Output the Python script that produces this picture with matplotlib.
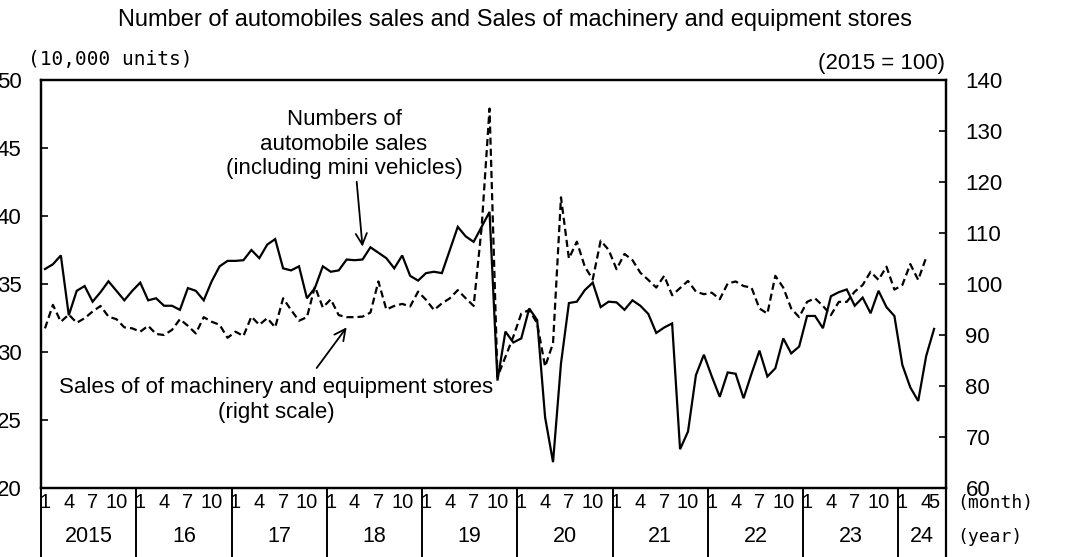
import numpy as np
import matplotlib
matplotlib.use("Agg")
import matplotlib.pyplot as plt
from matplotlib.transforms import blended_transform_factory

plt.rcParams["font.family"] = ["Liberation Sans", "DejaVu Sans"]

# year rows under the axis, month labels shown in each year
years = ["2015", "16", "17", "18", "19", "20", "21", "22", "23", "24"]
month_labels = [1, 4, 7, 10]
month_labels_last = [1, 4, 5]

# number of automobile sales, 10,000 units (left scale), Jan 2015 - May 2024
autos = [
    36.1, 36.45, 37.1, 32.7, 34.5, 34.85, 33.7, 34.4, 35.2, 34.5, 33.8, 34.5,
    35.1, 33.8, 33.95, 33.4, 33.4, 33.1, 34.7, 34.5, 33.8, 35.2, 36.3, 36.7,
    36.7, 36.75, 37.5, 36.9, 37.9, 38.3, 36.15, 36.0, 36.3, 33.95, 34.7, 36.3,
    35.9, 36.0, 36.8, 36.75, 36.8, 37.7, 37.3, 36.9, 36.15, 37.1, 35.6, 35.25,
    35.8, 35.9, 35.8, 37.5, 39.2, 38.5, 38.1, 39.2, 40.3, 27.9, 31.5, 30.7,
    31.0, 33.2, 32.35, 25.2, 21.9, 29.15, 33.6, 33.7, 34.55, 35.1, 33.3, 33.7,
    33.65, 33.1, 33.8, 33.4, 32.8, 31.4, 31.8, 32.1, 22.85, 24.15, 28.3, 29.8,
    28.2, 26.7, 28.5, 28.4, 26.6, 28.4, 30.1, 28.2, 28.8, 31.0, 29.9, 30.4,
    32.65, 32.65, 31.75, 34.1, 34.4, 34.6, 33.4, 34.0, 32.85, 34.5, 33.3, 32.65,
    29.05, 27.4, 26.4, 29.7, 31.7,
]

# sales of machinery and equipment stores, 2015 = 100 (right scale), Jan 2015 - Apr 2024
machinery = [
    91.3, 95.9, 92.6, 94.0, 92.4, 93.3, 94.6, 95.7, 93.6, 93.1, 91.5, 91.3,
    90.65, 91.8, 90.2, 90.0, 91.0, 93.1, 91.8, 90.3, 93.5, 92.6, 92.0, 89.45,
    90.65, 89.8, 93.6, 92.0, 93.3, 91.5, 97.2, 94.9, 92.8, 93.5, 99.5, 95.4,
    97.0, 93.9, 93.5, 93.5, 93.6, 94.4, 100.5, 95.0, 95.7, 96.1, 95.6, 98.5,
    96.9, 94.9, 96.2, 97.2, 98.8, 97.2, 95.7, 111.0, 134.4, 81.8, 85.7, 89.7,
    94.2, 94.9, 92.3, 83.8, 88.4, 117.0, 105.0, 108.3, 103.4, 100.9, 108.5, 106.7,
    102.9, 105.9, 104.7, 102.2, 100.8, 99.3, 101.6, 97.8, 99.2, 100.6, 98.5, 98.0,
    98.3, 97.0, 100.1, 100.5, 99.6, 99.3, 95.2, 94.2, 101.6, 99.3, 95.2, 93.5,
    96.5, 97.2, 95.7, 93.9, 96.5, 96.5, 98.5, 99.8, 102.4, 100.8, 103.4, 98.9,
    99.8, 103.9, 100.8, 105.2,
]

x_autos = np.arange(len(autos)) + 0.5
x_mach = np.arange(len(machinery)) + 0.5
x_end = 114

W, H = 1079, 557
fig = plt.figure(figsize=(W / 100, H / 100), dpi=100)
ax = fig.add_axes([41 / W, 1 - 488 / H, 905 / W, 408 / H])
ax2 = ax.twinx()

ax.plot(x_autos, autos, color="black", lw=1.6, solid_joinstyle="miter")
ax2.plot(x_mach, machinery, color="black", lw=1.6, ls=(0, (3.2, 1.8)))

ax.set_xlim(0, x_end)
ax.set_ylim(20, 50)
ax2.set_ylim(60, 140)
ax.set_yticks(range(20, 51, 5))
ax2.set_yticks(range(60, 141, 10))
ax.set_xticks([])

for a in (ax, ax2):
    a.tick_params(axis="y", direction="in", length=5, width=1.2, labelsize=16, pad=14)
    for s in a.spines.values():
        s.set_linewidth(1.6)

# year separators and month / year labels below the axis
trans = blended_transform_factory(ax.transData, ax.transAxes)
sep_bottom = -70 / 408
for k in range(len(years)):
    ax.plot([12 * k, 12 * k], [0, sep_bottom], transform=trans, clip_on=False,
            color="black", lw=1.4)
ax.plot([x_end, x_end], [0, sep_bottom], transform=trans, clip_on=False,
        color="black", lw=1.6)

row_month = -15 / 408
row_year = -49 / 408
for k, yr in enumerate(years):
    months = month_labels if k < len(years) - 1 else month_labels_last
    for m in months:
        ax.text(12 * k + m - 0.5, row_month, str(m), transform=trans,
                ha="center", va="center", fontsize=14.5)
    xc = 12 * k + 6 if k < len(years) - 1 else (12 * k + x_end) / 2
    ax.text(xc, row_year, yr, transform=trans, ha="center", va="center", fontsize=15.5)

fig.text(957 / W, 1 - 503 / H, "(month)", ha="left", va="center", fontsize=13,
         family="DejaVu Sans Mono")
fig.text(957 / W, 1 - 537 / H, "(year)", ha="left", va="center", fontsize=13,
         family="DejaVu Sans Mono")

fig.text(515 / W, 1 - 20 / H,
         "Number of automobiles sales and Sales of machinery and equipment stores",
         ha="center", va="center", fontsize=17)
fig.text(28 / W, 1 - 60 / H, "(10,000 units)", ha="left", va="center",
         fontsize=14, family="DejaVu Sans Mono")
fig.text(945 / W, 1 - 63 / H, "(2015 = 100)", ha="right", va="center", fontsize=16)

# annotations
ax.text(0.3348, 0.8431, "Numbers of\nautomobile sales\n(including mini vehicles)",
        transform=ax.transAxes, ha="center", va="center", multialignment="center",
        fontsize=16)
ax.annotate("", xy=(x_autos[40], autos[40] + 0.95), xycoords="data",
            xytext=(0.3488, 0.7507), textcoords="axes fraction",
            arrowprops=dict(arrowstyle="->, head_length=0.5, head_width=0.25",
                            color="black", lw=1.3, mutation_scale=16,
                            shrinkA=0, shrinkB=0))

ax.text(0.2597, 0.2157, "Sales of of machinery and equipment stores\n(right scale)",
        transform=ax.transAxes, ha="center", va="center", multialignment="center",
        fontsize=16)
ax2.annotate("", xy=(x_mach[38], machinery[38] - 2.0), xycoords="data",
             xytext=(0.3046, 0.2941), textcoords="axes fraction",
             arrowprops=dict(arrowstyle="->, head_length=0.5, head_width=0.25",
                             color="black", lw=1.3, mutation_scale=16,
                             shrinkA=0, shrinkB=0))

fig.savefig("out.png", dpi=100)
